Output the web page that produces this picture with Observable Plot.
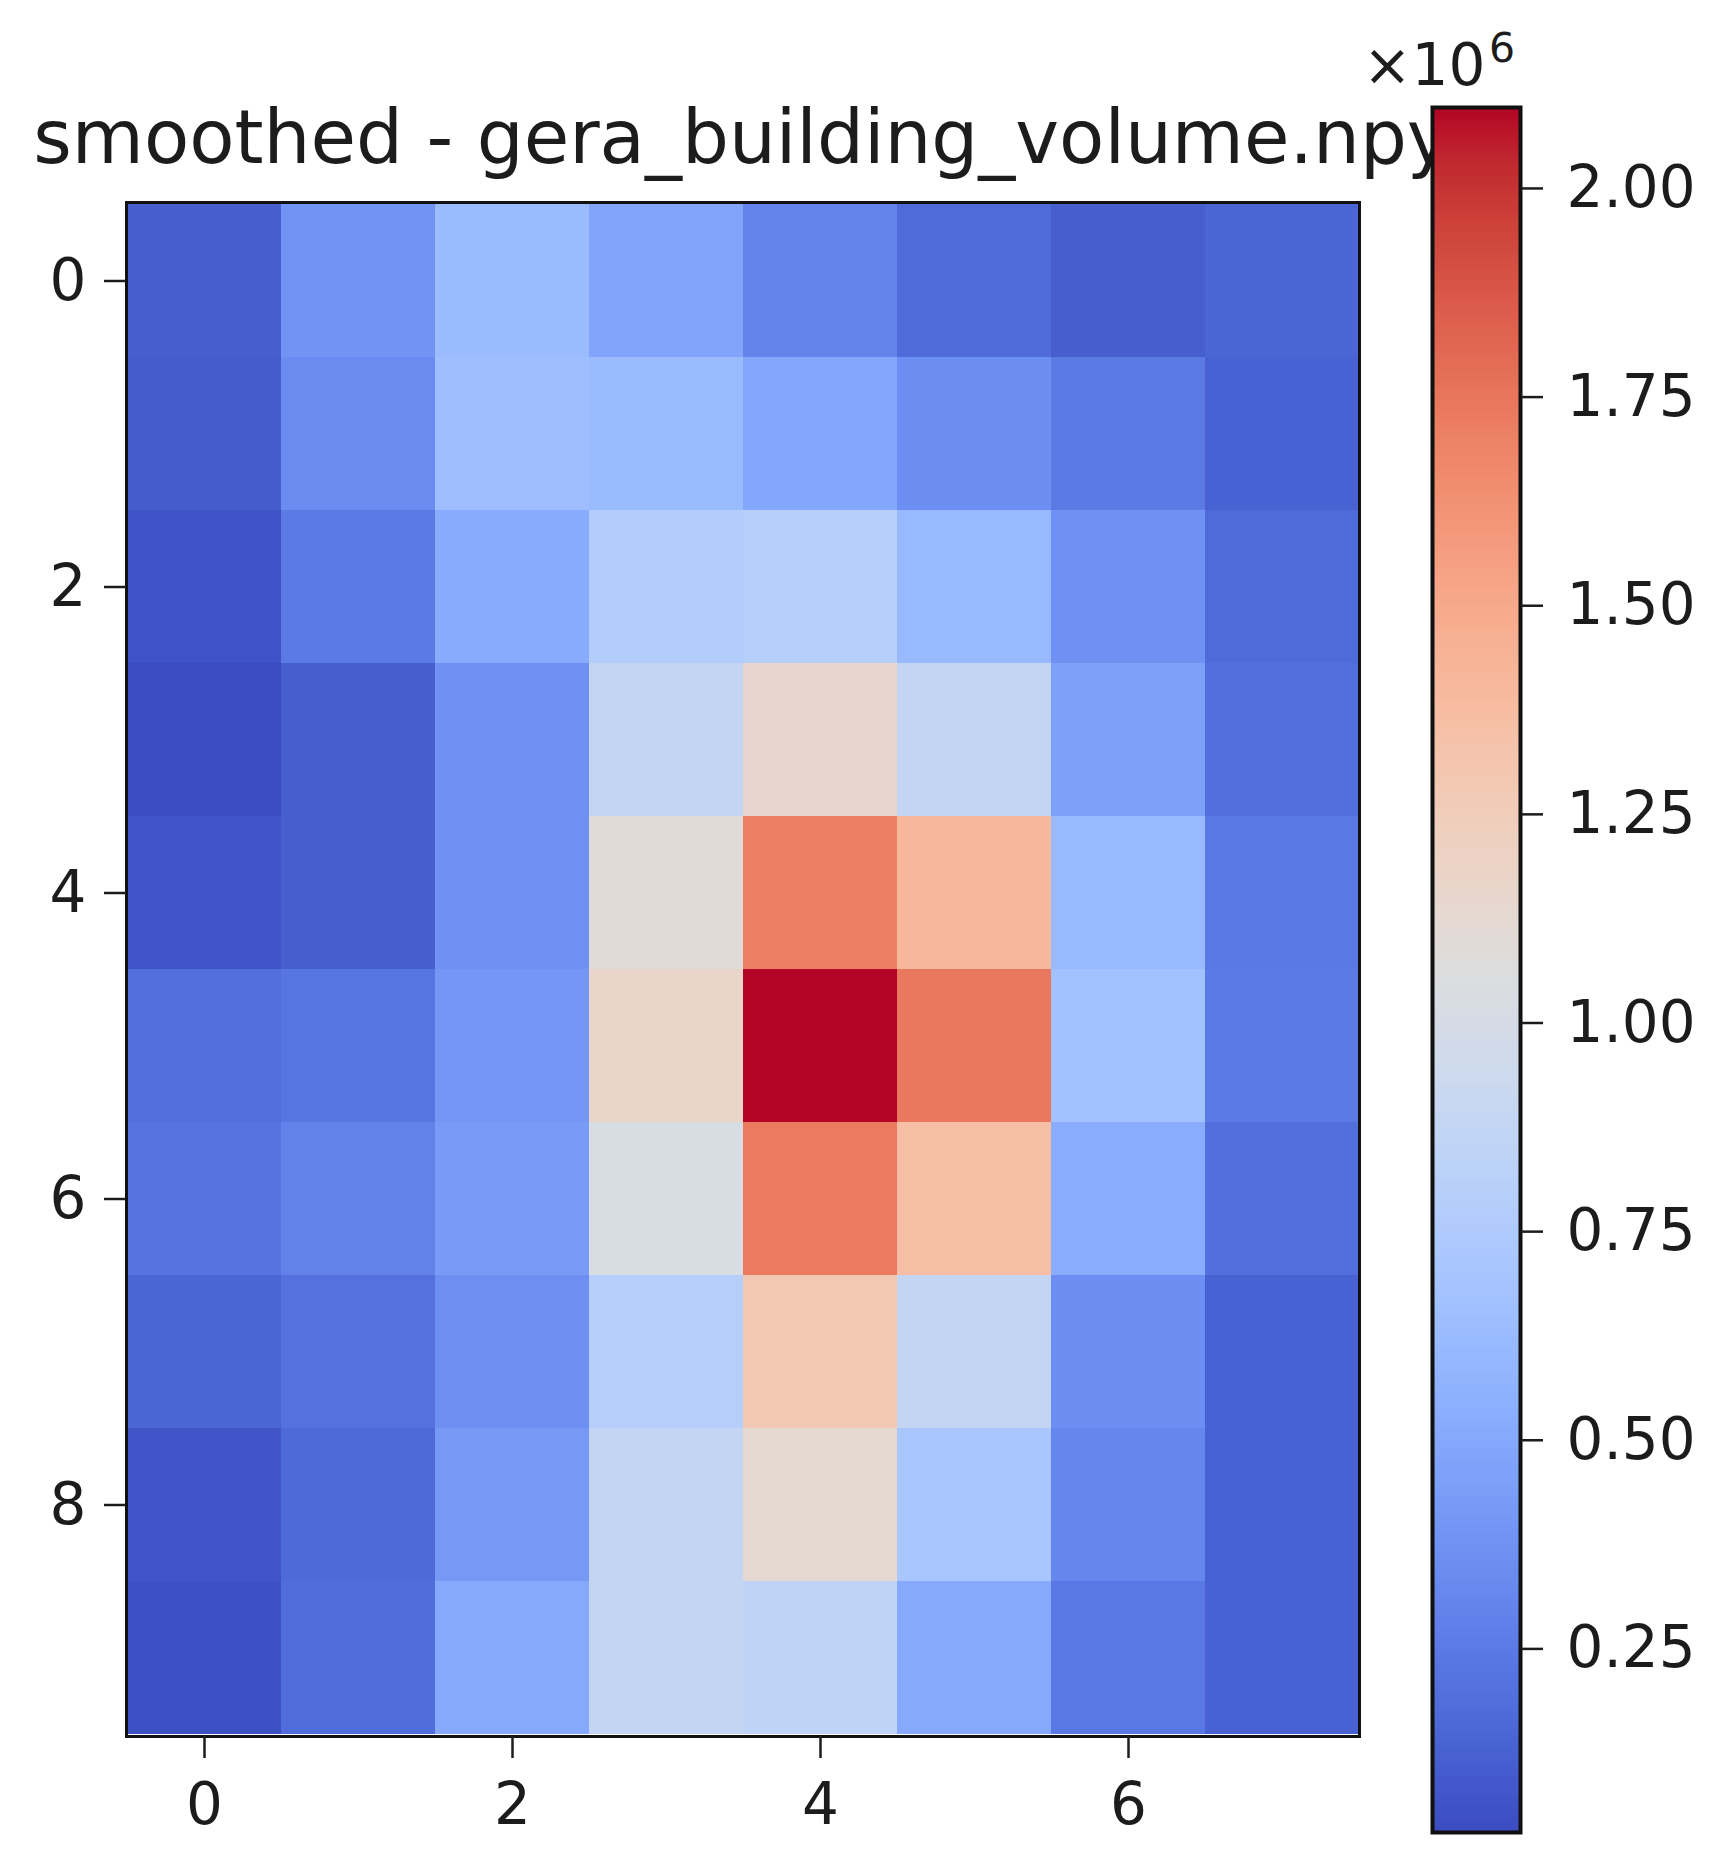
<!DOCTYPE html>
<html>
<head>
<meta charset="utf-8">
<script src="https://cdn.jsdelivr.net/npm/d3@7"></script>
<script src="https://cdn.jsdelivr.net/npm/@observablehq/plot@0.6"></script>
<style>
  html, body { margin: 0; padding: 0; background: #fff; }
  #page { position: relative; width: 1728px; height: 1866px; overflow: hidden; font-family: "DejaVu Sans", sans-serif; }
  #page > * { position: absolute; }
</style>
</head>
<body>
<div id="page"></div>
<script>
// ---- data ----
const titleText = "smoothed - gera_building_volume.npy";
const colLabels = [0, 1, 2, 3, 4, 5, 6, 7];
const rowLabels = [0, 1, 2, 3, 4, 5, 6, 7, 8, 9];
const xTicks = [0, 2, 4, 6];
const yTicks = [0, 2, 4, 6, 8];
const colorbarTicks = [250000, 500000, 750000, 1000000, 1250000, 1500000, 1750000, 2000000];
const row0 = [113000, 381000, 629000, 485000, 299000, 175000, 113000, 144000];
const row1 = [102000, 340000, 650000, 629000, 495000, 350000, 247000, 133000];
const row2 = [61000, 247000, 516000, 774000, 784000, 609000, 371000, 175000];
const row3 = [30000, 113000, 371000, 877000, 1150000, 877000, 454000, 195000];
const row4 = [71000, 113000, 371000, 1095000, 1710000, 1415000, 609000, 237000];
const row5 = [195000, 226000, 402000, 1167000, 2097000, 1740000, 671000, 247000];
const row6 = [216000, 288000, 423000, 1020000, 1725000, 1365000, 526000, 195000];
const row7 = [144000, 206000, 361000, 795000, 1290000, 877000, 350000, 133000];
const row8 = [71000, 164000, 412000, 877000, 1130000, 712000, 309000, 133000];
const row9 = [51000, 185000, 505000, 877000, 846000, 505000, 237000, 133000];
const rows = [row0, row1, row2, row3, row4, row5, row6, row7, row8, row9];

// matplotlib "coolwarm" control colours
const coolwarm = [
  "#3b4cc0","#445acc","#4d68d7","#5775e1","#6282ea","#6c8ef1","#779af7","#82a5fb",
  "#8db0fe","#98b9ff","#a3c2ff","#aec9fd","#b8d0f9","#c2d5f4","#ccd9ee","#d5dbe6",
  "#dddddd","#e5d8d1","#ecd3c5","#f1ccb9","#f5c4ad","#f7bba0","#f7b194","#f7a688",
  "#f49a7b","#f18d6f","#ec7f63","#e57058","#de604d","#d55042","#cb3e38","#c0282f",
  "#b40426"
];

// ---- build table ----
const cells = [];
rows.forEach((r, i) => r.forEach((v, j) => cells.push({row: rowLabels[i], col: colLabels[j], value: v})));
const [vmin, vmax] = d3.extent(cells, d => d.value);
const interp = d3.piecewise(d3.interpolateRgb, coolwarm);
const colorScale = {type: "linear", domain: [vmin, vmax], interpolate: interp};

const page = document.getElementById("page");
const ink = "#1c1c1c";

// ---- title + offset text (below the colorbar in z-order) ----
const svgNS = "http://www.w3.org/2000/svg";
const textSvg = document.createElementNS(svgNS, "svg");
textSvg.setAttribute("width", 1728);
textSvg.setAttribute("height", 220);
textSvg.style.left = "0px";
textSvg.style.top = "0px";
function addText(str, x, y, size, anchor) {
  const t = document.createElementNS(svgNS, "text");
  t.setAttribute("x", x);
  t.setAttribute("y", y);
  t.setAttribute("font-size", size);
  t.setAttribute("font-family", "DejaVu Sans");
  t.setAttribute("fill", ink);
  t.setAttribute("text-anchor", anchor);
  t.textContent = str;
  textSvg.appendChild(t);
}
addText(titleText, 742, 163, 74, "middle");
addText("\u00d710", 1363, 85, 58, "start");
addText("6", 1489, 62, 41, "start");
page.appendChild(textSvg);

// ---- heatmap ----
const heat = Plot.plot({
  width: 1400,
  height: 1866,
  marginLeft: 126,
  marginRight: 41,
  marginTop: 202,
  marginBottom: 130,
  style: {fontFamily: "DejaVu Sans", fontSize: "58px", color: ink, background: "transparent"},
  x: {type: "band", domain: colLabels, padding: 0, label: null},
  y: {type: "band", domain: rowLabels, padding: 0, label: null},
  color: colorScale,
  marks: [
    Plot.cell(cells, {x: "col", y: "row", fill: "value", inset: 0, shapeRendering: "crispEdges"}),
    Plot.frame({stroke: "#111", strokeWidth: 3}),
    Plot.axisX({ticks: xTicks, tickSize: 22, tickPadding: 24, fontSize: 58, strokeWidth: 2.5, label: null, fill: ink, stroke: ink}),
    Plot.axisY({ticks: yTicks, tickSize: 22, tickPadding: 18, fontSize: 58, strokeWidth: 2.5, label: null, fill: ink, stroke: ink})
  ]
});
heat.style.left = "0px";
heat.style.top = "0px";
page.appendChild(heat);

// ---- colorbar ----
const nSlices = 400;
const slices = d3.range(nSlices).map(i => {
  const lo = vmin + (vmax - vmin) * i / nSlices;
  const hi = vmin + (vmax - vmin) * (i + 1) / nSlices;
  return {lo, hi, mid: (lo + hi) / 2};
});
const bar = Plot.plot({
  width: 328,
  height: 1866,
  marginLeft: 32,
  marginRight: 208,
  marginTop: 107,
  marginBottom: 34,
  style: {fontFamily: "DejaVu Sans", fontSize: "58px", color: ink, background: "transparent"},
  x: {domain: [0, 1], axis: null},
  y: {domain: [vmin, vmax], label: null},
  color: colorScale,
  marks: [
    Plot.rect(slices, {x1: 0, x2: 1, y1: "lo", y2: "hi", fill: "mid", shapeRendering: "crispEdges"}),
    Plot.frame({stroke: "#111", strokeWidth: 4}),
    Plot.axisY({anchor: "right", ticks: colorbarTicks, tickFormat: d => (d / 1e6).toFixed(2),
      tickSize: 22, tickPadding: 24, fontSize: 58, strokeWidth: 2.5, label: null, fill: ink, stroke: ink})
  ]
});
bar.style.left = "1400px";
bar.style.top = "0px";
page.appendChild(bar);
</script>
</body>
</html>
